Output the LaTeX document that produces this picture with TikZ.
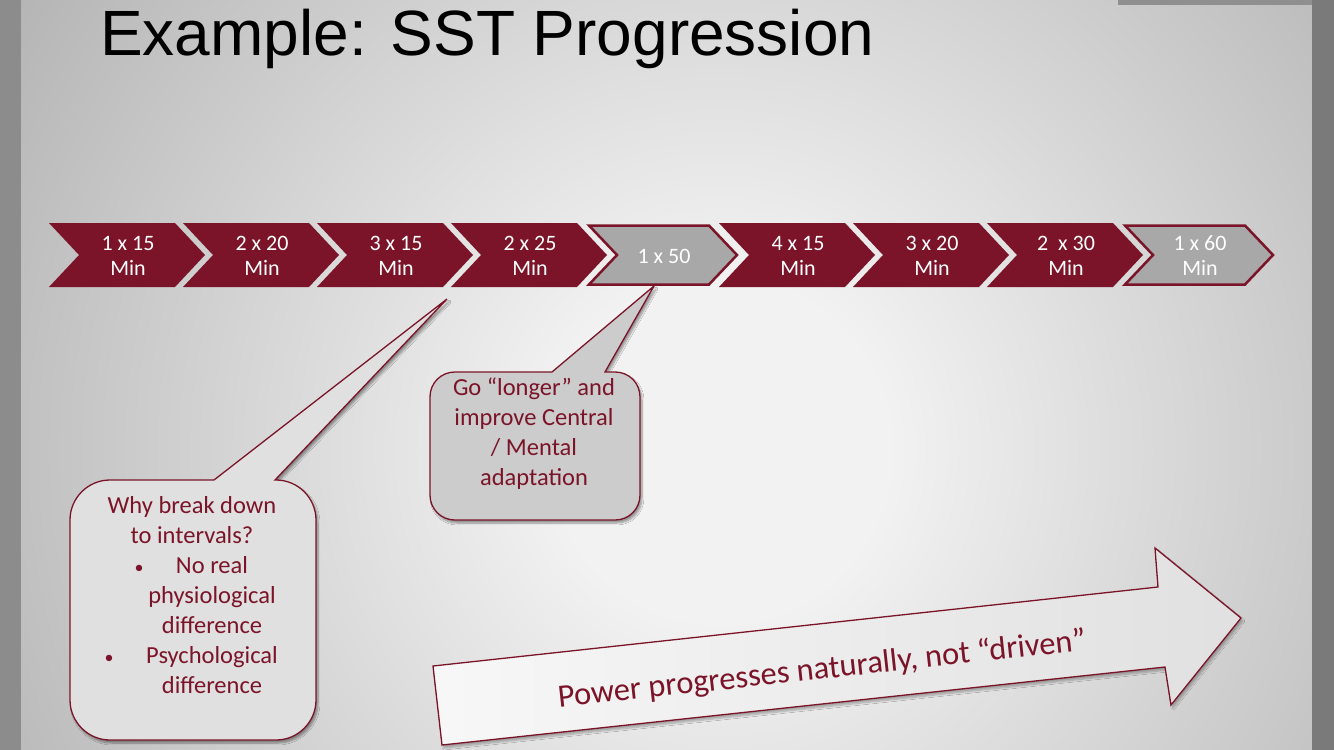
\documentclass[tikz,border=0pt]{standalone}
\usepackage{fontspec}
\setmainfont{Carlito}
\newfontfamily\titlefont{Liberation Sans}
\usetikzlibrary{shadows.blur}
\definecolor{maroon}{RGB}{123,20,40}
\definecolor{chevgray}{RGB}{168,168,168}
\definecolor{bgin}{RGB}{242,242,242}
\definecolor{bgmid}{RGB}{180,180,180}
\definecolor{bgout}{RGB}{152,152,152}
\definecolor{bgcorner}{RGB}{130,130,130}
\pgfdeclareradialshading{slidebg}{\pgfpoint{0bp}{0bp}}{color(0bp)=(bgin); color(6bp)=(bgin); color(30bp)=(bgmid); color(50bp)=(bgout); color(72bp)=(bgcorner)}
\tikzset{
  chevmaroon/.style={fill=maroon, draw=none},
  chevgrey/.style={fill=chevgray, draw=maroon, line width=2.5pt, line join=miter},
  chevtext/.style={text=white, font=\fontsize{22}{25}\selectfont, align=center, inner sep=0pt},
  callout/.style={draw=maroon, line width=1.3pt, blur shadow={shadow xshift=2pt, shadow yshift=-3pt, shadow opacity=40, shadow blur steps=8}},
  calltext/.style={text=maroon, font=\fontsize{24.5}{30}\selectfont, align=center, inner sep=0pt, anchor=base},
  bullet/.style={text=maroon, font=\fontsize{18}{30}\selectfont, inner sep=0pt, anchor=base},
}
\begin{document}
\begin{tikzpicture}[x=1pt,y=-1pt]
\useasboundingbox (0,0) rectangle (1334,750);
% slide background
\begin{scope}
  \clip (21,0) rectangle (1312,750);
  \path[shading=slidebg] (21,-260) rectangle (1419,1160);
\end{scope}
\fill[black!45] (0,0) rectangle (21,750);
\fill[black!52] (1312,0) rectangle (1334,750);
\fill[black!44] (1118,0) rectangle (1312,5);
% title
\node[anchor=base west, inner sep=0pt, font=\titlefont\fontsize{64}{70}\selectfont] (title) at (100,55) {Example: SST Progression};
% chevrons
\foreach \i/\t/\k in {0/{1 x 15\\Min}/m, 1/{2 x 20\\Min}/m, 2/{3 x 15\\Min}/m, 3/{2 x 25\\Min}/m, 4/{1 x 50}/g, 5/{4 x 15\\Min}/m, 6/{3 x 20\\Min}/m, 7/{2\ \ x 30\\Min}/m, 8/{1 x 60\\Min}/g}{
  \pgfmathsetmacro{\L}{49+134*\i}
  \if\k m
    \path[chevmaroon] (\L,223) -- (\L+126,223) -- (\L+156,255) -- (\L+126,287) -- (\L,287) -- (\L+30,255) -- cycle;
  \else
    \path[chevgrey] (\L+4,225.5) -- (\L+124,225.5) -- (\L+152,255) -- (\L+124,284.5) -- (\L+4,284.5) -- (\L+32,255) -- cycle;
  \fi
  \node[chevtext] (c\i) at (\L+79,256) {\t};
}
% callout 1
\path[callout, fill=black!12] (275,480) -- (276,480) .. controls (298,480) and (316,498) .. (316,520) -- (316,700) .. controls (316,722) and (298,740) .. (276,740) -- (110,740) .. controls (88,740) and (70,722) .. (70,700) -- (70,520) .. controls (70,498) and (88,480) .. (110,480) -- (214,480) -- (447,299) -- cycle;
\node[calltext] (q1) at (192,543) {Why break down\\to intervals?};
\node[bullet] (b1) at (139,573) {•};
\node[calltext] (t1) at (212,633) {No real\\physiological\\difference};
\node[bullet] (b2) at (109,663) {•};
\node[calltext] (t2) at (212,693) {Psychological\\difference};
% callout 2
\path[callout, fill=black!20] (605,372) -- (615,372) .. controls (629,372) and (640,383) .. (640,397) -- (640,495) .. controls (640,509) and (629,520) .. (615,520) -- (455,520) .. controls (441,520) and (430,509) .. (430,495) -- (430,397) .. controls (430,383) and (441,372) .. (455,372) -- (552,372) -- (654,286) -- cycle;
\node[calltext] (q2) at (534,485) {Go “longer” and\\improve Central\\/ Mental\\adaptation};
% big arrow
\path[draw=maroon, line width=1.3pt, left color=black!3, right color=black!12, blur shadow={shadow xshift=2pt, shadow yshift=-3pt, shadow opacity=30, shadow blur steps=8}]
  (433,666) -- (1158,587) -- (1155,548) -- (1241,618) -- (1171,705) -- (1165,667) -- (442,745) -- cycle;
\node[text=maroon, font=\fontsize{32.5}{36}\selectfont, rotate=6.2, inner sep=0pt] (pw) at (822,670) {Power progresses naturally, not “driven”};
\end{tikzpicture}
\end{document}
